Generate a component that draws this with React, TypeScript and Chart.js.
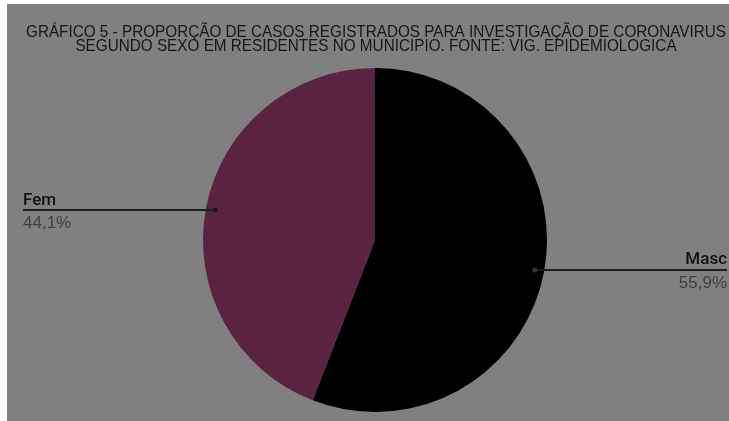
import React, { useEffect, useRef } from "react";
import { Chart, registerables } from "chart.js";

Chart.register(...registerables);

const categories = ["Masc", "Fem"];
const values = [55.9, 44.1];
const percentLabels = ["55,9%", "44,1%"];
const sliceColors = ["#000000", "#5a2441"];
const titleLines = [
  "GRÁFICO 5 - PROPORÇÃO DE CASOS REGISTRADOS PARA INVESTIGAÇÃO DE CORONAVIRUS",
  "SEGUNDO SEXO EM RESIDENTES NO MUNICIPIO. FONTE: VIG. EPIDEMIOLOGICA",
];

const W = 729;
const H = 421;

const bgPlugin = {
  id: "bgPanel",
  beforeDraw(chart: any) {
    const ctx = chart.ctx;
    ctx.save();
    ctx.fillStyle = "#ffffff";
    ctx.fillRect(0, 0, W, H);
    ctx.fillStyle = "#808080";
    ctx.fillRect(7, 4, W - 7, H - 4);
    ctx.restore();
  },
};

const titlePlugin = {
  id: "condensedTitle",
  afterDraw(chart: any) {
    const ctx = chart.ctx;
    ctx.save();
    ctx.font = "15.5px 'Liberation Sans', Arial, sans-serif";
    ctx.fillStyle = "#161616";
    ctx.textBaseline = "alphabetic";
    ctx.textAlign = "center";
    const w1 = ctx.measureText(titleLines[0]).width;
    const sx = 700 / w1;
    const baselines = [37, 51];
    const cx = 376;
    titleLines.forEach((t, i) => {
      ctx.save();
      ctx.translate(cx, baselines[i]);
      ctx.scale(sx, 1.05);
      ctx.fillText(t, 0, 0);
      ctx.restore();
    });
    ctx.restore();
  },
};

const leaderPlugin = {
  id: "leaders",
  afterDraw(chart: any) {
    const ctx = chart.ctx;
    const meta = chart.getDatasetMeta(0);
    ctx.save();
    meta.data.forEach((arc: any, i: number) => {
      const { x, y, startAngle, endAngle, outerRadius } = arc.getProps(
        ["x", "y", "startAngle", "endAngle", "outerRadius"],
        true
      );
      const mid = (startAngle + endAngle) / 2;
      const r = outerRadius * 0.945;
      const px = x + Math.cos(mid) * r;
      const py = y + Math.sin(mid) * r;
      const right = Math.cos(mid) > 0;
      const endX = right ? 727 : 23;
      ctx.strokeStyle = "#1f1f1f";
      ctx.lineWidth = 2;
      ctx.beginPath();
      ctx.moveTo(px, py);
      ctx.lineTo(endX, py);
      ctx.stroke();
      ctx.fillStyle = right ? "#333333" : "#2a1020";
      ctx.beginPath();
      ctx.arc(px, py, 2.5, 0, Math.PI * 2);
      ctx.fill();
      ctx.textAlign = right ? "right" : "left";
      ctx.textBaseline = "alphabetic";
      ctx.font = "500 17px Roboto, 'Liberation Sans', Arial, sans-serif";
      ctx.fillStyle = "#111111";
      ctx.fillText(categories[i], endX, py - 5.5);
      ctx.font = "17px 'Liberation Sans', Arial, sans-serif";
      ctx.fillStyle = "#404040";
      ctx.fillText(percentLabels[i], endX, py + 18);
    });
    ctx.restore();
  },
};

export default function App() {
  const ref = useRef<HTMLCanvasElement | null>(null);
  useEffect(() => {
    document.body.style.margin = "0";
    if (!ref.current) return;
    const chart = new Chart(ref.current, {
      type: "pie",
      data: {
        labels: categories,
        datasets: [
          {
            data: values,
            backgroundColor: sliceColors,
            borderWidth: 0,
          },
        ],
      },
      options: {
        animation: false,
        responsive: false,
        maintainAspectRatio: false,
        devicePixelRatio: 1,
        layout: { padding: { left: 203, right: 182, top: 68, bottom: 9 } },
        plugins: {
          legend: { display: false },
          title: { display: false },
          tooltip: { enabled: false },
        },
      },
      plugins: [bgPlugin, titlePlugin, leaderPlugin],
    });
    return () => chart.destroy();
  }, []);
  return (
    <div style={{ width: W, height: H }}>
      <canvas ref={ref} width={W} height={H} style={{ display: "block" }} />
    </div>
  );
}
